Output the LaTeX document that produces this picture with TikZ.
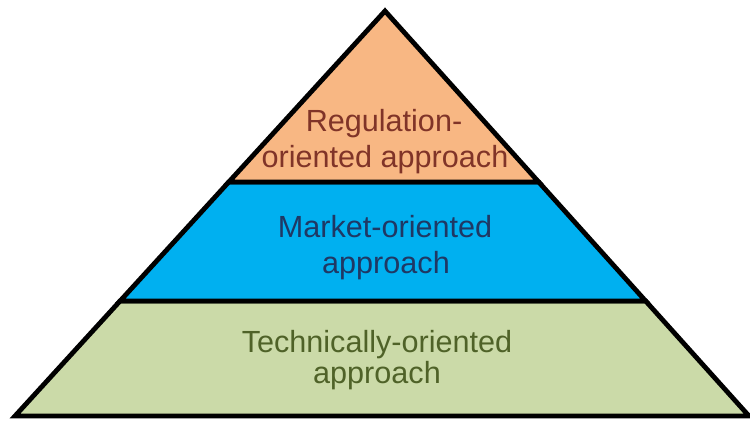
\documentclass[tikz,border=0pt]{standalone}
\usepackage{fontspec}
\setmainfont{Liberation Sans}
\usetikzlibrary{calc}
\definecolor{tierorange}{RGB}{248,183,131}
\definecolor{tierblue}{RGB}{0,176,240}
\definecolor{tiergreen}{RGB}{203,218,168}
\definecolor{txtorange}{RGB}{128,52,40}
\definecolor{txtblue}{RGB}{31,56,100}
\definecolor{txtgreen}{RGB}{79,98,40}
\tikzset{
  tier/.style={draw=black, line width=4.8pt, line join=miter},
  lbl/.style={anchor=base, inner sep=0pt, font=\fontsize{30.6}{34}\selectfont}
}
\begin{document}
\begin{tikzpicture}[x=1pt,y=-1pt]
\useasboundingbox (0,0) rectangle (750,421);
% vertices
\coordinate (apex) at (385,11);
\coordinate (bl) at (15,416);
\coordinate (br) at (749,416);
\coordinate (l1) at ($(apex)!0.4222!(bl)$);
\coordinate (r1) at ($(apex)!0.4222!(br)$);
\coordinate (l2) at ($(apex)!0.7160!(bl)$);
\coordinate (r2) at ($(apex)!0.7160!(br)$);
% tiers
\draw[tier, fill=tiergreen] (l2) -- (r2) -- (br) -- (bl) -- cycle;
\draw[tier, fill=tierblue] (l1) -- (r1) -- (r2) -- (l2) -- cycle;
\draw[tier, fill=tierorange] (apex) -- (r1) -- (l1) -- cycle;
% labels
\node[lbl, text=txtorange] (reg1) at (384,131) {Regulation-};
\node[lbl, text=txtorange] (reg2) at (385,167) {oriented approach};
\node[lbl, text=txtblue] (mkt1) at (385,237) {Market-oriented};
\node[lbl, text=txtblue] (mkt2) at (386,273) {approach};
\node[lbl, text=txtgreen] (tec1) at (377,352) {Technically-oriented};
\node[lbl, text=txtgreen] (tec2) at (377,383) {approach};
\end{tikzpicture}
\end{document}
